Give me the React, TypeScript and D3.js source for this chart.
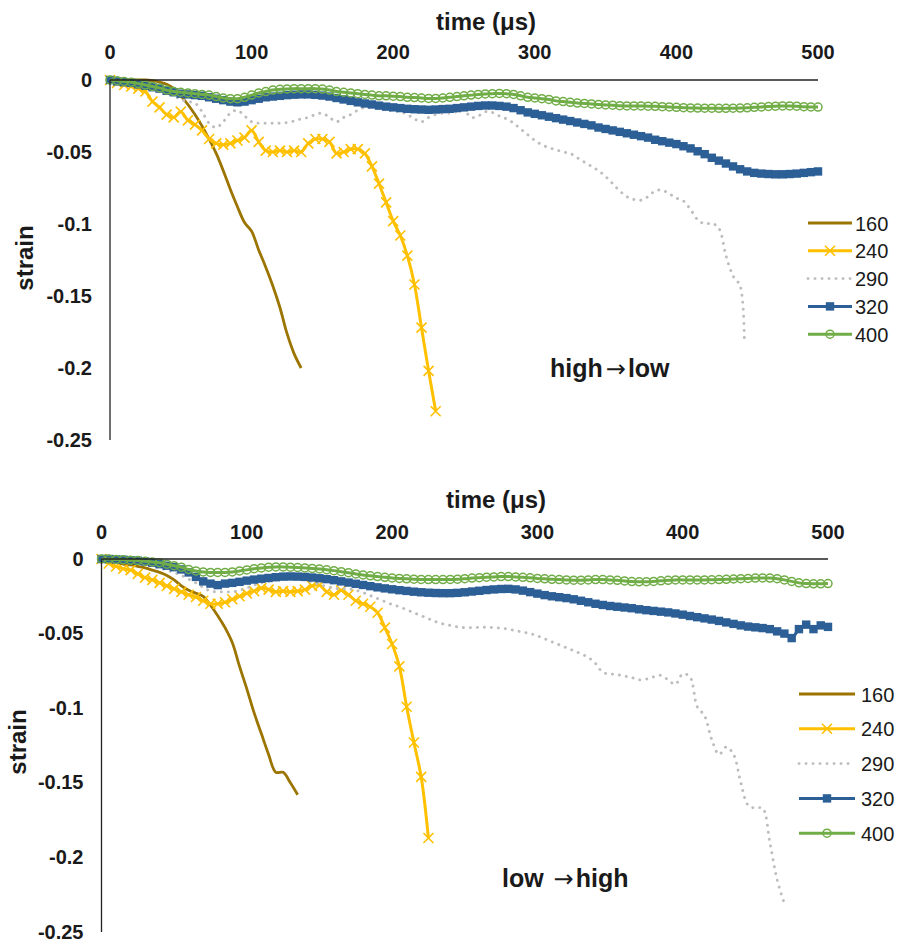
import React from "react";
import * as d3 from "d3";

// ---- data (strain values in units of 1e-3, sampled every 5 µs) ----
const SERIES_NAMES = ["160", "240", "290", "320", "400"];
const X_TICKS = [0, 100, 200, 300, 400, 500];
const Y_TICKS = [0, -0.05, -0.1, -0.15, -0.2, -0.25];
const Y_TICK_LABELS = ["0", "-0.05", "-0.1", "-0.15", "-0.2", "-0.25"];

// high -> low panel
const TOP_160 = [0, 0, 0, 0, 0, 0, -0.5, -1.5, -3, -6, -11, -17, -24, -32, -41, -51, -63, -76, -88, -99, -105, -118, -130, -143, -158, -176, -190, -200];
const TOP_240 = [0, -2, -3.5, -4.5, -6, -8, -15, -19, -24, -26, -22, -28, -31, -35, -41, -44, -45, -44, -42, -40, -35, -43, -49, -50, -49, -50, -49, -50, -44, -41, -41, -43, -51, -50, -48, -48, -51, -60, -72, -85, -98, -108, -122, -142, -172, -202, -230];
const TOP_290 = [0, -0.5, -1, -2, -3, -4, -5.5, -7, -9, -11, -13.5, -15, -16, -22, -30, -33, -29, -23, -21, -25, -29, -30, -30, -30, -30, -29.5, -28.5, -27, -26, -24, -23, -26, -29, -26, -24, -21, -19, -19, -19.5, -20.5, -21.5, -22, -24, -27, -29, -26, -24, -23, -23, -22, -21, -26, -25, -22, -22.5, -25, -27, -30, -34, -38, -42, -45, -47, -48.5, -50, -51, -54, -57, -60, -63, -67, -72, -77, -81, -83, -83.5, -81, -77, -76.5, -79, -82, -84, -90, -97, -100, -99.5, -103, -122, -136, -143, -181];
const TOP_290_END_TIME = 448;
const TOP_320 = [0, -1, -1.5, -2, -3, -4, -5, -6, -7.5, -8.5, -9.5, -10, -10.5, -11, -12, -13, -14, -15, -15.5, -15, -14, -13, -12, -11.5, -11, -10.5, -10.2, -10, -10, -10.3, -10.8, -11.5, -12.5, -13.5, -14.5, -15.5, -16.3, -17, -17.8, -18.5, -19, -19.5, -20, -20.3, -20.5, -20.7, -20.5, -20.2, -20, -19.5, -19, -18.5, -18, -17.7, -17.7, -18, -18.5, -19.5, -21, -22.5, -23.5, -24.5, -25.5, -26.5, -27.5, -28.5, -29.5, -30.5, -31.5, -33, -34, -35, -36, -37, -38, -39, -40, -41.5, -42.5, -43.5, -44.5, -46, -47.5, -49.5, -51.5, -54, -56, -58, -60, -62, -63.5, -64.5, -65, -65.3, -65.5, -65.5, -65.3, -65, -64.5, -64, -63.5];
const TOP_400 = [0, -0.5, -1, -1.5, -2.5, -3.5, -4.5, -5.5, -7, -8, -8.5, -9, -9.5, -10, -10.5, -11.5, -12.5, -13, -13, -12, -10.5, -9, -8, -7, -6.5, -6.2, -6, -6, -6, -6, -6.3, -7, -8, -8.5, -9, -9.5, -10, -10.5, -11, -11, -11.2, -11.5, -12, -12.2, -12.5, -12.8, -12.8, -12.5, -12, -11.5, -11, -10.5, -10, -9.7, -9.5, -9.3, -9.5, -10, -11, -12, -12.5, -13, -13.5, -14.5, -15, -15.5, -16, -16.3, -16.6, -17, -17.3, -17.5, -17.8, -18, -18, -18, -18.2, -18.3, -18.5, -18.7, -19, -19.2, -19.4, -19.5, -19.6, -19.6, -19.7, -19.7, -19.6, -19.5, -19.3, -19, -18.7, -18.4, -18.2, -18, -18, -18.2, -18.5, -18.7, -18.8];

// low -> high panel
const BOT_160 = [0, -1, -2.5, -3.5, -4, -5, -6, -7.5, -9, -11, -14, -18, -21, -23, -25, -31, -38, -46, -56, -72, -87, -103, -117, -131, -143, -143, -150, -158];
const BOT_240 = [0, -3, -5, -6.5, -7.5, -10, -12.5, -14, -16, -18, -20, -22, -24, -25.5, -28, -30, -30, -29, -27, -25, -23, -21.5, -19.5, -20.5, -22, -21.5, -22, -21.5, -20.5, -18, -17.5, -22, -24, -21, -24, -28, -30, -32, -36, -46, -57, -72, -99, -123, -146, -187];
const BOT_290 = [0, 0, -0.5, -1, -1.5, -2.5, -3.5, -4.5, -6, -7.5, -9, -11, -13.5, -16, -19, -21.5, -22, -22, -22, -21, -19.5, -17.5, -16, -15, -14, -13.5, -13, -13, -14, -15.5, -17, -18.5, -19.5, -20, -20, -21, -22.5, -24.5, -26.5, -28.5, -30.5, -32, -34, -36, -38, -40, -42, -43.5, -44.5, -45.5, -46, -46, -45.8, -45.8, -46, -46.3, -47, -48, -49, -50, -51.5, -53.5, -55.5, -57.5, -59.5, -61.5, -63.5, -66, -70, -76, -77, -77.5, -78.5, -79.5, -81, -80.5, -79, -78, -81, -84, -77, -79, -99, -105, -121, -131, -126, -131, -150, -165, -167, -167, -190, -215, -231];
const BOT_320 = [0, 0, -0.3, -0.5, -0.8, -1.2, -1.7, -2.5, -3.5, -4.5, -5.5, -7, -9, -12, -15, -16.5, -17.5, -16.5, -16, -15.3, -14.5, -13.8, -13.2, -12.7, -12.2, -11.8, -11.7, -11.8, -12, -12.4, -12.9, -13.5, -14.2, -15, -15.8, -16.6, -17.4, -18.2, -19, -19.7, -20.3, -20.9, -21.4, -21.9, -22.3, -22.6, -22.8, -22.9, -22.9, -22.7, -22.3, -21.8, -21.3, -20.8, -20.4, -20.1, -20, -20.4, -21.2, -22.2, -23.2, -24.2, -25, -25.6, -26.2, -27, -28, -29, -30, -30.8, -31.5, -32, -32.5, -33, -33.7, -34.3, -34.8, -35.3, -35.8, -36.5, -37.3, -38.2, -39, -39.8, -40.6, -41.5, -42.5, -43.5, -44.5, -45.3, -45.8, -46.3, -47, -48.5, -50, -53, -47, -44, -47, -44.5, -45.5];
const BOT_400 = [0, 0, -0.3, -0.5, -0.8, -1, -1.5, -2, -2.5, -3.5, -4.5, -5.5, -7, -8, -8.7, -9, -9, -9, -8.7, -8, -7.3, -6.5, -6, -5.5, -5.3, -5.3, -5.5, -5.7, -6, -6.3, -6.7, -7.2, -7.8, -8.5, -9.2, -10, -10.7, -11.3, -11.8, -12.3, -12.7, -13, -13.3, -13.5, -13.7, -13.8, -13.8, -13.8, -13.7, -13.5, -13.2, -12.8, -12.5, -12.2, -12, -11.8, -11.8, -12, -12.3, -12.6, -13, -13.3, -13.6, -13.8, -14, -14.2, -14.2, -14, -13.8, -13.8, -14, -14.3, -14.7, -15.1, -15.3, -15.2, -15, -14.6, -14.3, -14, -14, -14, -14, -14, -13.9, -13.8, -13.6, -13.4, -13.2, -13, -12.8, -12.7, -12.8, -13.2, -14, -15, -16, -16.5, -16.6, -16.6, -16.5];

const STEP_US = 5;

type Pt = { t: number; s: number };
function toPoints(vals: number[], endTime?: number): Pt[] {
  return vals.map((v, i) => ({
    t: endTime !== undefined && i === vals.length - 1 ? endTime : i * STEP_US,
    s: v / 1000,
  }));
}

const COLORS = ["#9C7400", "#FFC000", "#BDBDBD", "#2C5F96", "#70AD47"];

type Panel = {
  x0: number; x1: number; y0: number; y1: number;
  titleX: number; titleY: number; tickY: number;
  strainX: number; strainY: number;
  legX0: number; legX1: number; legTextX: number; legY: number; legStep: number;
  noteA: string; noteB: string; noteX: number; noteY: number;
  data: Pt[][];
};

const PANELS: Panel[] = [
  {
    x0: 110, x1: 818, y0: 80, y1: 440,
    titleX: 486, titleY: 30, tickY: 59,
    strainX: 33, strainY: 258,
    legX0: 808, legX1: 852, legTextX: 855, legY: 223, legStep: 27.8,
    noteA: "high", noteB: "low", noteX: 550, noteY: 377,
    data: [toPoints(TOP_160), toPoints(TOP_240), toPoints(TOP_290, TOP_290_END_TIME), toPoints(TOP_320), toPoints(TOP_400)],
  },
  {
    x0: 101.5, x1: 828, y0: 559, y1: 932,
    titleX: 496, titleY: 508, tickY: 539,
    strainX: 26, strainY: 742,
    legX0: 799, legX1: 855, legTextX: 861, legY: 694, legStep: 34.8,
    noteA: "low ", noteB: "high", noteX: 502, noteY: 887,
    data: [toPoints(BOT_160), toPoints(BOT_240), toPoints(BOT_290), toPoints(BOT_320), toPoints(BOT_400)],
  },
];

const FONT = "'Liberation Sans', Arial, Helvetica, sans-serif";

function Marker({ kind, x, y }: { kind: number; x: number; y: number }) {
  if (kind === 1) {
    const h = 5;
    return <path d={`M${x - h},${y - h}L${x + h},${y + h}M${x + h},${y - h}L${x - h},${y + h}`} stroke={COLORS[1]} strokeWidth={1.6} fill="none" />;
  }
  if (kind === 3) {
    return <rect x={x - 4.2} y={y - 4.2} width={8.4} height={8.4} fill={COLORS[3]} />;
  }
  if (kind === 4) {
    return <circle cx={x} cy={y} r={4} fill="none" stroke={COLORS[4]} strokeWidth={1.5} />;
  }
  return null;
}

function lineStyle(i: number) {
  if (i === 0) return { stroke: COLORS[0], strokeWidth: 2.8 };
  if (i === 1) return { stroke: COLORS[1], strokeWidth: 3 };
  if (i === 2) return { stroke: COLORS[2], strokeWidth: 2.9, strokeDasharray: "0.1 6.9", strokeLinecap: "round" as const };
  if (i === 3) return { stroke: COLORS[3], strokeWidth: 3 };
  return { stroke: COLORS[4], strokeWidth: 3 };
}

function ChartPanel({ p }: { p: Panel }) {
  const x = d3.scaleLinear().domain([0, 500]).range([p.x0, p.x1]);
  const y = d3.scaleLinear().domain([0, -0.25]).range([p.y0, p.y1]);
  const line = d3.line<Pt>().x((d) => x(d.t)).y((d) => y(d.s)).curve(d3.curveCatmullRom.alpha(0.5));

  return (
    <g>
      {/* series */}
      {p.data.map((pts, i) => (
        <g key={i}>
          <path d={line(pts) || ""} fill="none" {...lineStyle(i)} />
          {pts.map((d, j) => (
            <Marker key={j} kind={i} x={x(d.t)} y={y(d.s)} />
          ))}
        </g>
      ))}
      {/* axes */}
      <line x1={p.x0} x2={p.x1} y1={p.y0} y2={p.y0} stroke="#222" strokeWidth={1.3} />
      <line x1={p.x0} x2={p.x0} y1={p.y0} y2={p.y1} stroke="#222" strokeWidth={1.3} />
      {X_TICKS.map((t) => (
        <text key={t} x={x(t)} y={p.tickY} textAnchor="middle" fontFamily={FONT} fontWeight="bold" fontSize={20} fill="#1a1a1a">
          {t}
        </text>
      ))}
      {Y_TICKS.map((v, i) => (
        <text key={i} x={p.x0 - 18} y={y(v) + 6.5} textAnchor="end" fontFamily={FONT} fontWeight="bold" fontSize={20} fill="#1a1a1a">
          {Y_TICK_LABELS[i]}
        </text>
      ))}
      <text x={p.titleX} y={p.titleY} textAnchor="middle" fontFamily={FONT} fontWeight="bold" fontSize={24} fill="#1a1a1a">
        time (μs)
      </text>
      <text transform={`translate(${p.strainX},${p.strainY}) rotate(-90)`} textAnchor="middle" fontFamily={FONT} fontWeight="bold" fontSize={24} fill="#1a1a1a">
        strain
      </text>
      <text x={p.noteX} y={p.noteY} fontFamily={FONT} fontWeight="bold" fontSize={25} fill="#1a1a1a">
        {p.noteA}
        <tspan dx={3} fontFamily="'DejaVu Sans', sans-serif" fontWeight="normal" fontSize={24}>{"\u2192"}</tspan>
        <tspan dx={2}>{p.noteB}</tspan>
      </text>
      {/* legend */}
      {SERIES_NAMES.map((name, i) => {
        const ly = p.legY + i * p.legStep;
        const mx = (p.legX0 + p.legX1) / 2;
        return (
          <g key={name}>
            <line x1={p.legX0} x2={p.legX1} y1={ly} y2={ly} {...lineStyle(i)} />
            <Marker kind={i} x={mx} y={ly} />
            <text x={p.legTextX} y={ly + 7.5} fontFamily={FONT} fontSize={20} fill="#1a1a1a">
              {name}
            </text>
          </g>
        );
      })}
    </g>
  );
}

export default function App() {
  return (
    <svg width={899} height={941} style={{ position: "absolute", left: 0, top: 0, background: "#fff" }}>
      <rect x={0} y={0} width={899} height={941} fill="#fff" />
      {PANELS.map((p, i) => (
        <ChartPanel key={i} p={p} />
      ))}
    </svg>
  );
}
